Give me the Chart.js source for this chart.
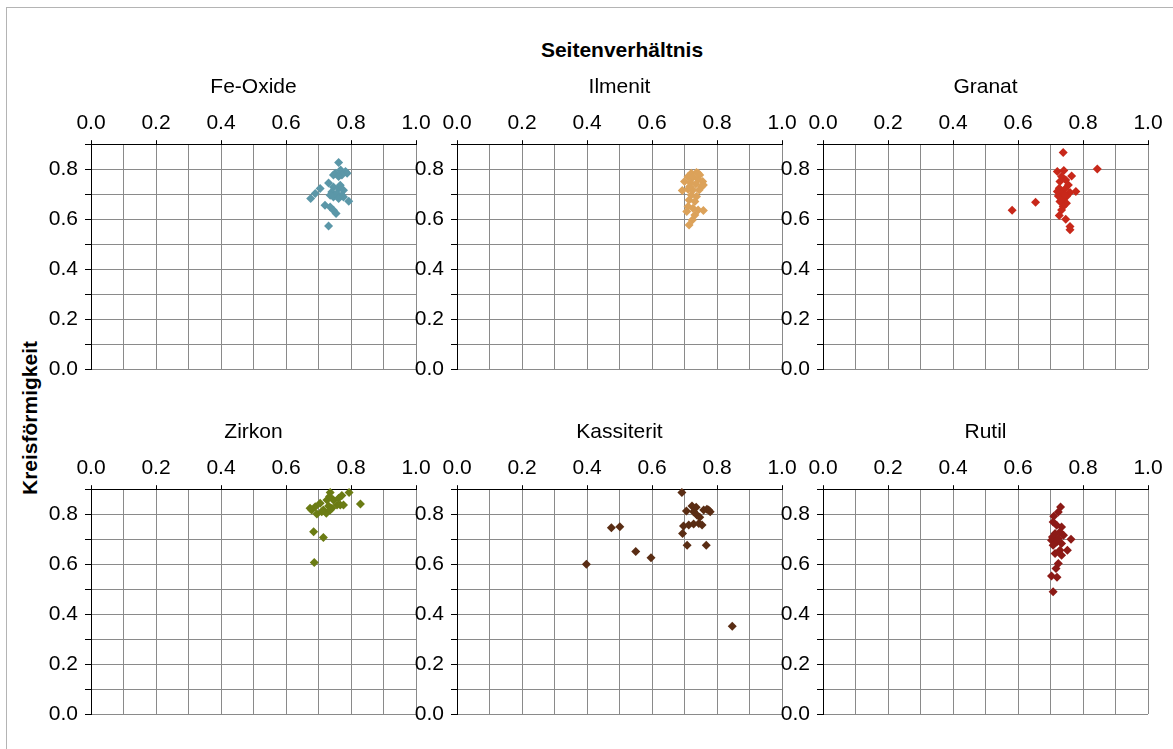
<!DOCTYPE html>
<html>
<head>
<meta charset="utf-8">
<title>Seitenverhältnis / Kreisförmigkeit</title>
<script src="https://cdn.jsdelivr.net/npm/chart.js@4.4.1/dist/chart.umd.min.js"></script>
<style>
  body { margin: 0; background: #fff; width: 1173px; height: 749px; overflow: hidden; position: relative; }
  #frame { position: absolute; left: 6px; top: 7px; width: 1200px; height: 800px; border: 1px solid #b4b4b4; }
  canvas { position: absolute; }
  .axisTitle { position: absolute; font: bold 21px 'Liberation Sans', Arial, sans-serif; color: #000; white-space: nowrap; }
  #xTitle { left: 622px; top: 50px; transform: translate(-50%, -50%); }
  #yTitle { left: 30px; top: 418px; transform: translate(-50%, -50%) rotate(-90deg); }
</style>
</head>
<body>
<div id="frame"></div>
<div id="xTitle" class="axisTitle">Seitenverhältnis</div>
<div id="yTitle" class="axisTitle">Kreisförmigkeit</div>

<script>
// mineral names, one per panel
const minerals = ['Fe-Oxide', 'Ilmenit', 'Granat', 'Zirkon', 'Kassiterit', 'Rutil'];
const colors = ['#5b97a8', '#dca25a', '#c8281a', '#6b7c14', '#5a2d14', '#8c1a16'];

// Seitenverhältnis (x) and Kreisförmigkeit (y) per mineral
const feOxideX = [0.762,0.752,0.768,0.783,0.788,0.746,0.772,0.762,0.731,0.705,0.690,0.676,0.746,0.762,0.777,0.741,0.756,0.772,0.746,0.762,0.777,0.793,0.736,0.767,0.720,0.736,0.746,0.754,0.731];
const feOxideY = [0.827,0.784,0.797,0.791,0.784,0.777,0.777,0.771,0.745,0.723,0.703,0.683,0.729,0.723,0.716,0.709,0.703,0.696,0.689,0.683,0.689,0.672,0.696,0.736,0.656,0.649,0.636,0.623,0.573];

const ilmenitX = [0.721,0.737,0.747,0.711,0.726,0.742,0.756,0.700,0.718,0.735,0.753,0.758,0.693,0.711,0.726,0.745,0.721,0.737,0.714,0.732,0.711,0.726,0.742,0.758,0.707,0.724,0.714,0.732,0.742,0.716];
const ilmenitY = [0.784,0.787,0.777,0.771,0.768,0.760,0.751,0.751,0.747,0.741,0.731,0.737,0.715,0.720,0.717,0.717,0.697,0.691,0.677,0.671,0.651,0.644,0.637,0.635,0.631,0.597,0.577,0.617,0.784,0.731];

const granatX = [0.739,0.844,0.721,0.741,0.765,0.734,0.747,0.729,0.755,0.727,0.744,0.778,0.760,0.734,0.724,0.749,0.739,0.729,0.749,0.654,0.582,0.739,0.734,0.727,0.747,0.760,0.760,0.744,0.721];
const granatY = [0.867,0.801,0.791,0.795,0.773,0.771,0.757,0.751,0.737,0.724,0.720,0.711,0.707,0.704,0.693,0.691,0.680,0.671,0.664,0.668,0.636,0.651,0.637,0.615,0.600,0.571,0.557,0.697,0.711];

const zirkonX = [0.736,0.772,0.794,0.829,0.674,0.690,0.705,0.715,0.726,0.731,0.746,0.741,0.757,0.767,0.777,0.724,0.695,0.710,0.736,0.685,0.715,0.687,0.679,0.734,0.762];
const zirkonY = [0.887,0.875,0.887,0.841,0.824,0.830,0.844,0.817,0.857,0.833,0.857,0.824,0.837,0.837,0.837,0.804,0.801,0.810,0.817,0.730,0.707,0.607,0.817,0.871,0.864];

const kassiteritX = [0.692,0.706,0.723,0.736,0.728,0.738,0.747,0.759,0.769,0.779,0.774,0.697,0.713,0.728,0.744,0.754,0.694,0.708,0.767,0.475,0.501,0.550,0.597,0.398,0.847];
const kassiteritY = [0.887,0.813,0.833,0.828,0.810,0.797,0.788,0.817,0.820,0.810,0.817,0.753,0.757,0.761,0.763,0.757,0.723,0.676,0.676,0.746,0.750,0.651,0.626,0.600,0.351];

const rutilX = [0.731,0.724,0.710,0.708,0.719,0.734,0.729,0.714,0.740,0.763,0.703,0.719,0.734,0.708,0.752,0.729,0.714,0.734,0.724,0.717,0.703,0.720,0.708,0.706,0.724];
const rutilY = [0.829,0.809,0.792,0.769,0.756,0.749,0.729,0.723,0.716,0.700,0.696,0.689,0.683,0.676,0.656,0.656,0.643,0.636,0.603,0.583,0.552,0.547,0.489,0.709,0.703];

const xValues = [feOxideX, ilmenitX, granatX, zirkonX, kassiteritX, rutilX];
const yValues = [feOxideY, ilmenitY, granatY, zirkonY, kassiteritY, rutilY];

// axis ranges and labelled ticks
const xMin = 0, xMax = 1.0, yMin = 0, yMax = 0.9, tickStep = 0.1;
const xTickLabels = ['0.0', '0.2', '0.4', '0.6', '0.8', '1.0'];
const yTickLabels = ['0.0', '0.2', '0.4', '0.6', '0.8'];

// canvas placement of the panels
const canvasLefts = [16, 382, 748];
const canvasTops = [64, 409];
const FONT = "'Liberation Sans', Arial, sans-serif";

Chart.defaults.font.family = FONT;
Chart.defaults.font.size = 21;
Chart.defaults.color = '#000';

const isMajor = v => Math.round(v * 10) % 2 === 0;
const labelFor = (list, v) => {
    const s = v.toFixed(1);
    return list.indexOf(s) >= 0 ? s : '';
};

function makePanel(i)
{
    const canvas = document.createElement('canvas');
    canvas.width = 415;
    canvas.height = 320;
    canvas.style.left = canvasLefts[i % 3] + 'px';
    canvas.style.top = canvasTops[Math.floor(i / 3)] + 'px';
    document.body.appendChild(canvas);

    const points = xValues[i].map((x, k) => ({x: x, y: yValues[i][k]}));

    new Chart(canvas.getContext('2d'), {
        type: 'scatter',
        data: {
            datasets: [{
                label: minerals[i],
                data: points,
                pointStyle: 'rectRot',
                pointRadius: 4.5,
                pointBorderWidth: 0,
                backgroundColor: colors[i],
                borderColor: colors[i],
                clip: false
            }]
        },
        options: {
            responsive: false,
            animation: false,
            events: [],
            layout: { padding: { left: 0, top: 0, right: 15, bottom: 15 } },
            plugins: {
                legend: { display: false },
                tooltip: { enabled: false },
                title: {
                    display: true,
                    text: minerals[i],
                    fullSize: false,
                    font: { size: 21, weight: 'normal' },
                    color: '#000',
                    padding: { top: 11, bottom: 4 }
                }
            },
            scales: {
                x: {
                    type: 'linear',
                    position: 'top',
                    min: xMin,
                    max: xMax,
                    ticks: {
                        stepSize: tickStep,
                        autoSkip: false,
                        maxRotation: 0,
                        padding: 4,
                        callback: v => labelFor(xTickLabels, v)
                    },
                    grid: {
                        color: '#8a8a8a',
                        lineWidth: 1,
                        tickLength: 4,
                        tickColor: ctx => isMajor(ctx.tick.value) ? '#000' : 'rgba(0,0,0,0)'
                    },
                    border: { color: '#000', width: 1 },
                    afterFit: s => { s.height = 40; s.paddingLeft = 0; s.paddingRight = 0; }
                },
                y: {
                    type: 'linear',
                    min: yMin,
                    max: yMax,
                    ticks: {
                        stepSize: tickStep,
                        autoSkip: false,
                        padding: 7,
                        callback: v => labelFor(yTickLabels, v)
                    },
                    grid: {
                        color: '#8a8a8a',
                        lineWidth: 1,
                        tickLength: 6,
                        tickColor: '#000'
                    },
                    border: { color: '#000', width: 1 },
                    afterFit: s => { s.width = 75; s.paddingTop = 0; s.paddingBottom = 0; }
                }
            }
        }
    });
}

document.addEventListener('DOMContentLoaded', function(){
    for (let i = 0; i < minerals.length; i++) makePanel(i);
}, false);
</script>
</body>
</html>
